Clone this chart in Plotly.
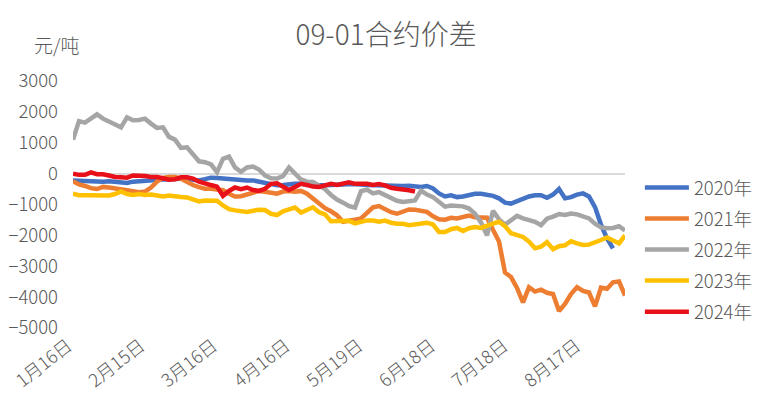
import plotly.graph_objects as go

# ---------------- data ----------------
tick_labels = ["1月16日", "2月15日", "3月16日", "4月16日", "5月19日", "6月18日", "7月18日", "8月17日"]
series_names = ["2020年", "2021年", "2022年", "2023年", "2024年"]

y2020 = [-220, -230, -250, -240, -270, -260, -250, -270, -280, -300,
         -260, -240, -250, -220, -200, -190, -180, -170, -170, -160,
         -200, -220, -180, -130, -140, -160, -170, -200, -220, -220,
         -220, -260, -320, -350, -380, -370, -340, -330, -330, -350,
         -380, -380, -380, -380, -370, -350, -340, -330, -350, -370,
         -380, -380, -390, -400, -400, -400, -390, -400, -430, -400,
         -480, -640, -740, -700, -760, -740, -690, -650, -650, -690,
         -720, -800, -940, -970, -880, -810, -740, -700, -700, -780,
         -680, -500, -800, -760, -680, -640, -740, -1085, -1650, -2100,
         -2420]

y2021 = [-250, -350, -400, -470, -500, -430, -450, -490, -500, -540,
         -570, -600, -580, -450, -260, -140, -110, -110, -170, -280,
         -370, -440, -490, -490, -510, -540, -650, -740, -730, -680,
         -600, -560, -590, -620, -650, -580, -560, -590, -560, -650,
         -800, -980, -1120, -1220, -1350, -1560, -1510, -1490, -1450, -1270,
         -1090, -1050, -1140, -1250, -1300, -1220, -1160, -1170, -1190, -1240,
         -1380, -1480, -1490, -1430, -1450, -1400, -1360, -1410, -1410, -1430,
         -1820, -2200, -3200, -3350, -3700, -4170, -3680, -3820, -3760, -3860,
         -3900, -4450, -4220, -3900, -3680, -3800, -3850, -4300, -3690, -3730,
         -3520, -3490, -3950]

y2022 = [1100, 1700, 1650, 1800, 1920, 1780, 1680, 1600, 1500, 1820,
         1730, 1740, 1780, 1620, 1480, 1500, 1190, 1100, 830, 850,
         600, 400, 370, 300, 50, 480, 550, 200, 60, 200,
         230, 130, -60, -150, -160, -80, 200, 0, -190, -260,
         -270, -390, -500, -690, -840, -940, -1050, -1100, -570, -520,
         -640, -600, -700, -800, -880, -920, -900, -870, -550, -680,
         -760, -900, -1070, -1030, -1030, -1060, -1130, -1300, -1580, -2000,
         -1200, -1480, -1650, -1500, -1370, -1450, -1500, -1560, -1670, -1460,
         -1390, -1310, -1340, -1290, -1320, -1390, -1450, -1620, -1740, -1770,
         -1760, -1700, -1840]

y2023 = [-650, -700, -700, -710, -720, -720, -710, -660, -580, -660,
         -690, -660, -690, -680, -700, -740, -710, -750, -760, -770,
         -830, -900, -870, -860, -880, -1030, -1150, -1190, -1210, -1240,
         -1200, -1170, -1180, -1300, -1340, -1220, -1160, -1100, -1260, -1170,
         -1090, -1250, -1320, -1540, -1540, -1560, -1530, -1610, -1550, -1515,
         -1520, -1560, -1520, -1590, -1620, -1625, -1670, -1640, -1590, -1590,
         -1650, -1890, -1890, -1800, -1760, -1860, -1770, -1730, -1760, -1680,
         -1620, -1560, -1700, -1930, -1980, -2050, -2200, -2420, -2370, -2220,
         -2450, -2350, -2320, -2190, -2260, -2310, -2300, -2240, -2150, -2070,
         -2180, -2260, -2000]

y2024 = [0, -40, -40, 40, -20, -20, -60, -110, -120, -130,
         -60, -60, -80, -110, -110, -150, -200, -180, -120, -120,
         -160, -260, -330, -370, -420, -720, -560, -450, -500, -450,
         -530, -560, -490, -330, -310, -420, -530, -430, -330, -370,
         -420, -430, -390, -330, -370, -330, -280, -330, -330, -330,
         -370, -340, -380, -460, -490, -500, -540, -580]

series_values = [y2020, y2021, y2022, y2023, y2024]
colors = ["#4472C4", "#ED7D31", "#A5A5A5", "#FFC000", "#E8111A"]

# ---------------- figure ----------------
n_points = len(y2022)
label_every = (n_points - 1) / 7.6  # label interval on the category axis
tick_vals = [k * label_every for k in range(len(tick_labels))]

FONT = "Noto Sans CJK SC"
TXT = "#595959"

fig = go.Figure()
for name, vals, col in zip(series_names, series_values, colors):
    fig.add_trace(go.Scatter(
        x=list(range(len(vals))), y=vals, name=name, mode="lines",
        line=dict(color=col, width=4.5), legendgroup=name,
    ))

fig.update_layout(
    width=773, height=398,
    margin=dict(l=73, r=148, t=81, b=70),
    paper_bgcolor="white", plot_bgcolor="white",
    font=dict(family=FONT, color=TXT, size=18, weight=300),
    title=dict(text="09-01合约价差", x=0.4994, xref="container", xanchor="center",
               y=1 - 35 / 398, yref="container", yanchor="middle",
               font=dict(family=FONT, size=28, color=TXT, weight=300)),
    xaxis=dict(range=[0, n_points - 1], tickvals=tick_vals, ticktext=tick_labels,
               tickangle=-38, showgrid=False, zeroline=False, showline=False,
               ticks="", tickfont=dict(size=18, color=TXT), automargin=False,
               ticklabelstandoff=3, ticklabelshift=-5),
    yaxis=dict(range=[-5000, 3000], dtick=1000, showgrid=False,
               zeroline=True, zerolinecolor="#D9D9D9", zerolinewidth=1.5,
               showline=False, ticks="", tickfont=dict(size=18.5, color=TXT),
               tickformat="d", automargin=False, ticklabelstandoff=14),
    legend=dict(x=1.027, xanchor="left", y=0.316, yanchor="middle",
                font=dict(size=18.5, color=TXT), tracegroupgap=4,
                itemwidth=44, bgcolor="rgba(0,0,0,0)"),
    showlegend=True,
)

fig.add_annotation(text="元/吨", xref="paper", yref="paper",
                   x=(57 - 73) / 552, y=(328 - 45) / 247,
                   xanchor="center", yanchor="middle", showarrow=False,
                   font=dict(size=19, color=TXT, family=FONT, weight=300))

fig.write_html("out.html", config={"displayModeBar": False},
               post_script="document.body.style.margin='0px';document.body.style.padding='0px';")
